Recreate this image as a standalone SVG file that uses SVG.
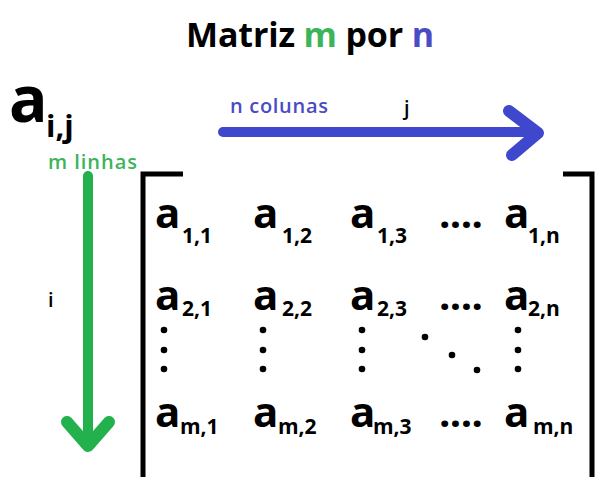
<svg xmlns="http://www.w3.org/2000/svg" width="597" height="477" viewBox="0 0 597 477">
<style>
text{font-family:"Open Sans","DejaVu Sans",sans-serif;font-weight:700;fill:#000}
.a{font-size:42px}
.s{font-size:21px}
.dd{font-size:40px}
.g{fill:#3cb45a}
.b{fill:#4b4bc4}
.lbl{font-size:20px;font-weight:600}
.br{fill:none;stroke:#000;stroke-width:5}
.dot{fill:#000}
</style>
<rect width="597" height="477" fill="#fff"/>
<g id="title"><text x="186" y="47" font-size="34" textLength="248">Matriz <tspan class="g">m</tspan> por <tspan class="b">n</tspan></text></g>
<g id="aij"><text x="9" y="122" font-size="64">a</text><text x="46" y="137" font-size="31">i,j</text></g>
<g id="m-linhas"><text class="lbl g" x="48" y="169" textLength="89">m linhas</text></g>
<g id="n-colunas"><text class="lbl b" x="230" y="113" textLength="98">n colunas</text></g>
<g id="j-label"><text class="lbl" x="404" y="115">j</text></g>
<g id="i-label"><text class="lbl" x="48" y="307">i</text></g>
<g id="connectors" fill="none" stroke-linecap="round" stroke-linejoin="round">
<g id="arrow-j" stroke="#3f48cc"><path d="M223,132 H537" stroke-width="10"/><path d="M509,111 L538,133 L512,155" stroke-width="12"/></g>
<g id="arrow-i" stroke="#22b14c"><path d="M88,176 V444" stroke-width="10"/><path d="M67,422 L88,446 L109,422" stroke-width="12"/></g>
</g>
<g id="brackets"><path class="br" d="M183,174 H143 V477"/><path class="br" d="M563,174 H592 V477"/></g>
<g id="row1">
<text class="a" x="155" y="228">a</text><text class="s" x="182" y="243">1,1</text>
<text class="a" x="253" y="228">a</text><text class="s" x="282" y="243">1,2</text>
<text class="a" x="350" y="228">a</text><text class="s" x="377" y="243">1,3</text>
<text class="dd" x="439" y="228" textLength="44">....</text>
<text class="a" x="504" y="228">a</text><text class="s" x="528" y="243">1,n</text>
</g>
<g id="row2">
<text class="a" x="155" y="310">a</text><text class="s" x="182" y="316">2,1</text>
<text class="a" x="253" y="310">a</text><text class="s" x="282" y="316">2,2</text>
<text class="a" x="350" y="310">a</text><text class="s" x="377" y="316">2,3</text>
<text class="dd" x="439" y="310" textLength="44">....</text>
<text class="a" x="504" y="310">a</text><text class="s" x="528" y="316">2,n</text>
</g>
<g id="vdots">
<circle class="dot" cx="164" cy="330" r="3.3"/><circle class="dot" cx="164" cy="350" r="3.3"/><circle class="dot" cx="164" cy="369" r="3.3"/>
<circle class="dot" cx="263" cy="330" r="3.3"/><circle class="dot" cx="263" cy="350" r="3.3"/><circle class="dot" cx="263" cy="369" r="3.3"/>
<circle class="dot" cx="362" cy="330" r="3.3"/><circle class="dot" cx="362" cy="350" r="3.3"/><circle class="dot" cx="362" cy="369" r="3.3"/>
<circle class="dot" cx="518" cy="330" r="3.3"/><circle class="dot" cx="518" cy="350" r="3.3"/><circle class="dot" cx="518" cy="369" r="3.3"/>
<circle class="dot" cx="425" cy="337" r="3.3"/><circle class="dot" cx="452" cy="355" r="3.3"/><circle class="dot" cx="477" cy="370" r="3.3"/>
</g>
<g id="rowm">
<text class="a" x="155" y="427">a</text><text class="s" x="180" y="434">m,1</text>
<text class="a" x="253" y="427">a</text><text class="s" x="278" y="434">m,2</text>
<text class="a" x="350" y="427">a</text><text class="s" x="373" y="434">m,3</text>
<text class="dd" x="439" y="427" textLength="44">....</text>
<text class="a" x="504" y="427">a</text><text class="s" x="533" y="434">m,n</text>
</g>
</svg>
